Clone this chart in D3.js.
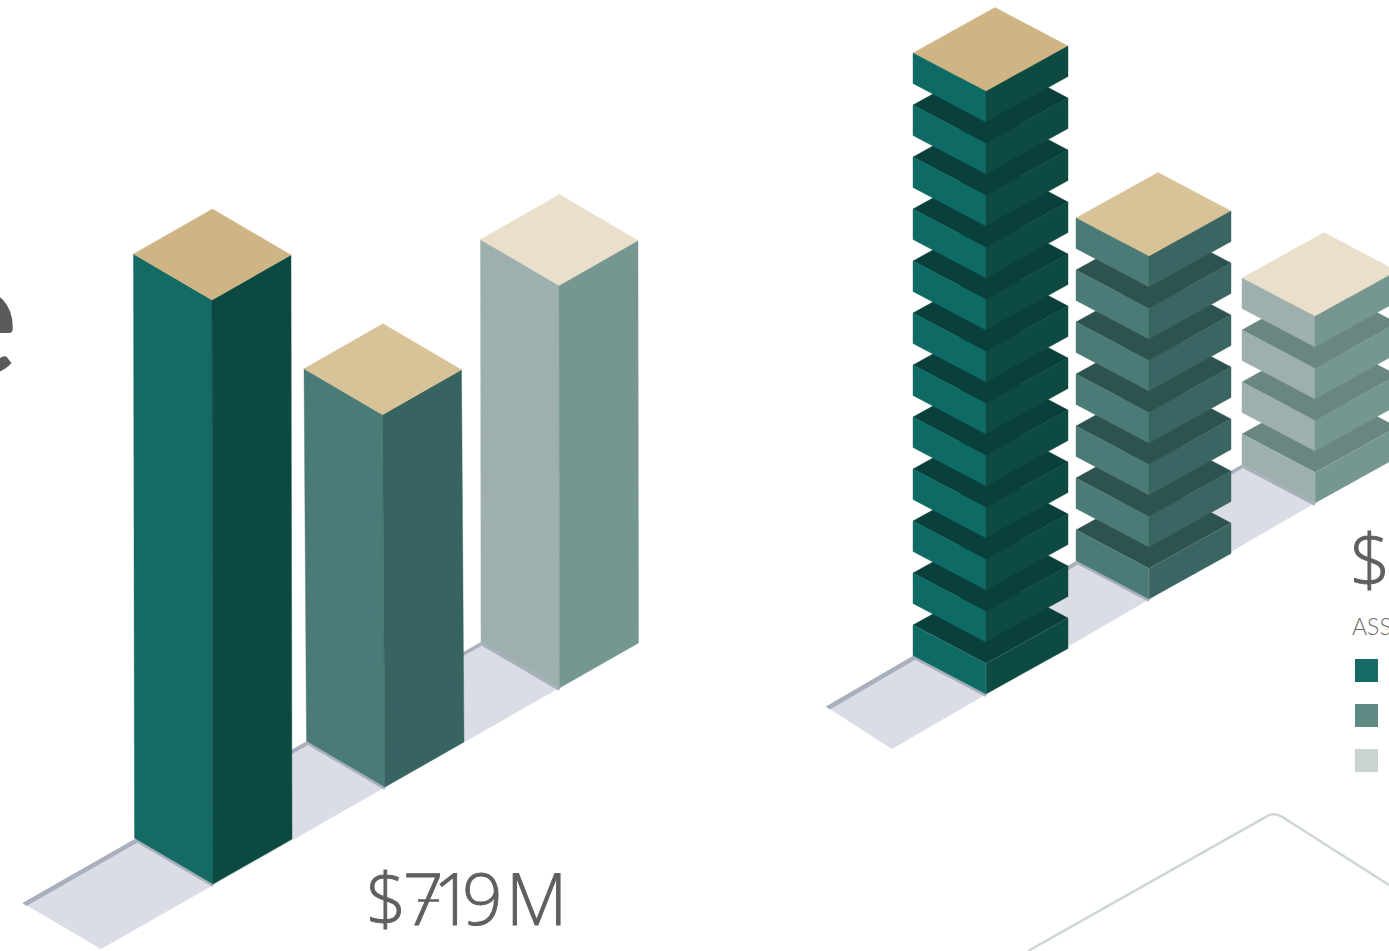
<!DOCTYPE html>
<html>
<head>
<meta charset="utf-8">
<script src="https://cdnjs.cloudflare.com/ajax/libs/d3/7.8.5/d3.min.js"></script>
<style>
  html, body { margin: 0; background: #fff; overflow: hidden; }
  svg { display: block; font-family: Lato, sans-serif; }
</style>
</head>
<body>
<script>
// asset classes, darkest to lightest
const assetClasses = ['a', 'b', 'c']
const towerValues = [309, 197, 213]   // $M, adds up to the headline
const towerTotal = '$719M'
const slabCounts = [12, 7, 4]

const leftFaces = ['#156a64', '#4a7b76', '#9eb0ae']
const rightFaces = ['#0c4a41', '#376461', '#769791']
const capFaces = ['#cfb584', '#d8c298', '#eadfcb']

const slabLeftFaces = ['#0e6a65', '#4b7b77', '#9eb0ae']
const slabRightFaces = ['#0c4a42', '#3a6562', '#769791']
const slabFloors = ['#0a403b', '#2e5250', '#6a8680']

const legendColors = ['#156a64', '#5f8a84', '#cad3d1']

const width = 1389
const height = 951

const svg = d3.select('body').append('svg')
  .attr('width', width)
  .attr('height', height)
  .attr('viewBox', [0, 0, width, height])

// each isometric block sits on a run of front corners
const towers = {
  frontX: d3.scaleOrdinal(assetClasses, [213, 385, 559.5]),
  frontY: d3.scaleOrdinal(assetClasses, [884, 787, 688]),
  a: [78.5, 46],
  b: [79, -45],
  lead: { back: [-112, 65], front: [-112, 65] },
  lean: [1, 2.5, 0.5]
}
const stacks = {
  frontX: d3.scaleOrdinal(assetClasses, [986, 1149, 1315]),
  frontY: d3.scaleOrdinal(assetClasses, [694, 599, 503]),
  a: [73, 38.5],
  b: [82, -45.5],
  lead: { back: [-87, 51], front: [-94, 55] }
}

const towerHeight = d3.scaleLinear().domain([0, 309]).range([0, 584])
const slabOffset = d3.scaleLinear().domain([0, 1]).range([0, 52])
const slabHeight = 30.5

const front = (c, k) => [c.frontX(k), c.frontY(k)]
const add = (p, v, s = 1) => [p[0] + v[0] * s, p[1] + v[1] * s]
const poly = pts => pts.map(p => p.join(',')).join(' ')

// ground strip with the darker band along its back edge
function drawGround(c) {
  const first = front(c, assetClasses[0])
  const last = front(c, assetClasses[assetClasses.length - 1])
  const firstLeft = add(first, c.a, -1)
  const lastLeft = add(last, c.a, -1)
  const backStart = add(firstLeft, c.lead.back)
  const frontStart = add(first, c.lead.front)

  const g = svg.append('g')
  g.append('polygon')
    .attr('points', poly([backStart, frontStart, last, lastLeft]))
    .attr('fill', '#dadde5')
  g.append('polygon')
    .attr('points', poly([backStart, lastLeft, add(lastLeft, [0, 4]), add(backStart, [4, 3])]))
    .attr('fill', '#a9b0bd')

  g.selectAll('line')
    .data(assetClasses)
    .join('line')
      .attr('x1', k => add(front(c, k), c.a, -1)[0])
      .attr('y1', k => add(front(c, k), c.a, -1)[1] + 1.5)
      .attr('x2', k => front(c, k)[0])
      .attr('y2', k => front(c, k)[1] + 1.5)
      .attr('stroke', '#a9b0bd')
      .attr('stroke-width', 3)
}

function face(g, pts, fill) {
  g.append('polygon')
    .attr('points', poly(pts))
    .attr('fill', fill)
    .attr('stroke', fill)
    .attr('stroke-width', 0.4)
}

drawGround(towers)
drawGround(stacks)

// tall blocks
svg.append('g')
  .selectAll('g')
  .data(assetClasses)
  .join('g')
    .each(function (k, i) {
      const g = d3.select(this)
      const base = front(towers, k)
      const h = towerHeight(towerValues[i])
      const top = [base[0] - towers.lean[i], base[1] - h]
      face(g, [add(base, towers.a, -1), base, top, add(top, towers.a, -1)], leftFaces[i])
      face(g, [base, add(base, towers.b), add(top, towers.b), top], rightFaces[i])
      face(g, [top, add(top, towers.a, -1), add(add(top, towers.a, -1), towers.b), add(top, towers.b)], capFaces[i])
    })

// stacked slabs, one per count, bottom up
svg.append('g')
  .selectAll('g')
  .data(assetClasses)
  .join('g')
    .each(function (k, i) {
      const column = d3.select(this)
      d3.range(slabCounts[i]).forEach(n => {
        const g = column.append('g')
        const base = add(front(stacks, k), [0, -slabOffset(n)])
        const top = add(base, [0, -slabHeight])
        const isTop = n === slabCounts[i] - 1
        face(g, [top, add(top, stacks.a, -1), add(add(top, stacks.a, -1), stacks.b), add(top, stacks.b)],
          isTop ? capFaces[i] : slabFloors[i])
        face(g, [add(base, stacks.a, -1), base, top, add(top, stacks.a, -1)], slabLeftFaces[i])
        face(g, [base, add(base, stacks.b), add(top, stacks.b), top], slabRightFaces[i])
        // the lowest slab catches a faint highlight along its upper edges
        if (n === 0) {
          g.append('polyline')
            .attr('points', poly([add(top, stacks.a, -1), top, add(top, stacks.b)]))
            .attr('fill', 'none')
            .attr('stroke', 'rgba(255,255,255,.18)')
            .attr('stroke-width', 0.6)
          g.append('polyline')
            .attr('points', poly([top, base]))
            .attr('stroke', 'rgba(255,255,255,.3)')
            .attr('stroke-width', 0.6)
        }
      })
    })

// legend keys
svg.append('g')
  .selectAll('rect')
  .data(legendColors)
  .join('rect')
    .attr('x', 1355)
    .attr('y', (d, i) => 659 + i * 45)
    .attr('width', 23)
    .attr('height', 23)
    .attr('fill', d => d)

// outline of the next panel, running off the page
const outline = d3.path()
outline.moveTo(1028, 951)
outline.arcTo(1274.5, 812, 1389, 885, 14)
outline.lineTo(1389, 885)
svg.append('path')
  .attr('d', outline.toString())
  .attr('fill', 'none')
  .attr('stroke', '#cdd6d3')
  .attr('stroke-width', 2.5)

// headline figures, light weight thickened a little with a stroke
const bigText = (x, y, t, size, fill, weight = 300, thicken = 0) => svg.append('text')
  .attr('x', x)
  .attr('y', y)
  .attr('font-size', size)
  .attr('font-weight', weight)
  .attr('fill', fill)
  .attr('stroke', fill)
  .attr('stroke-width', thicken)
  .text(t)

bigText('366 403 433 462 506', 925, towerTotal, 71, '#5f5f5f', 300, 0.9)
  .style('font-family', '"Open Sans", sans-serif')
svg.append('line')
  .attr('x1', 418).attr('x2', 439)
  .attr('y1', 900.5).attr('y2', 900.5)
  .attr('stroke', '#5f5f5f')
  .attr('stroke-width', 2.5)

bigText(1350, 586, '$', 71, '#5f5f5f', 300, 0.9)
  .style('font-family', '"Open Sans", sans-serif')
bigText(1352, 635, 'ASSETS', 23, '#6c6c6c')
bigText(-68, 375, 'e', 165, '#5a5a5a', 400)
</script>
</body>
</html>
